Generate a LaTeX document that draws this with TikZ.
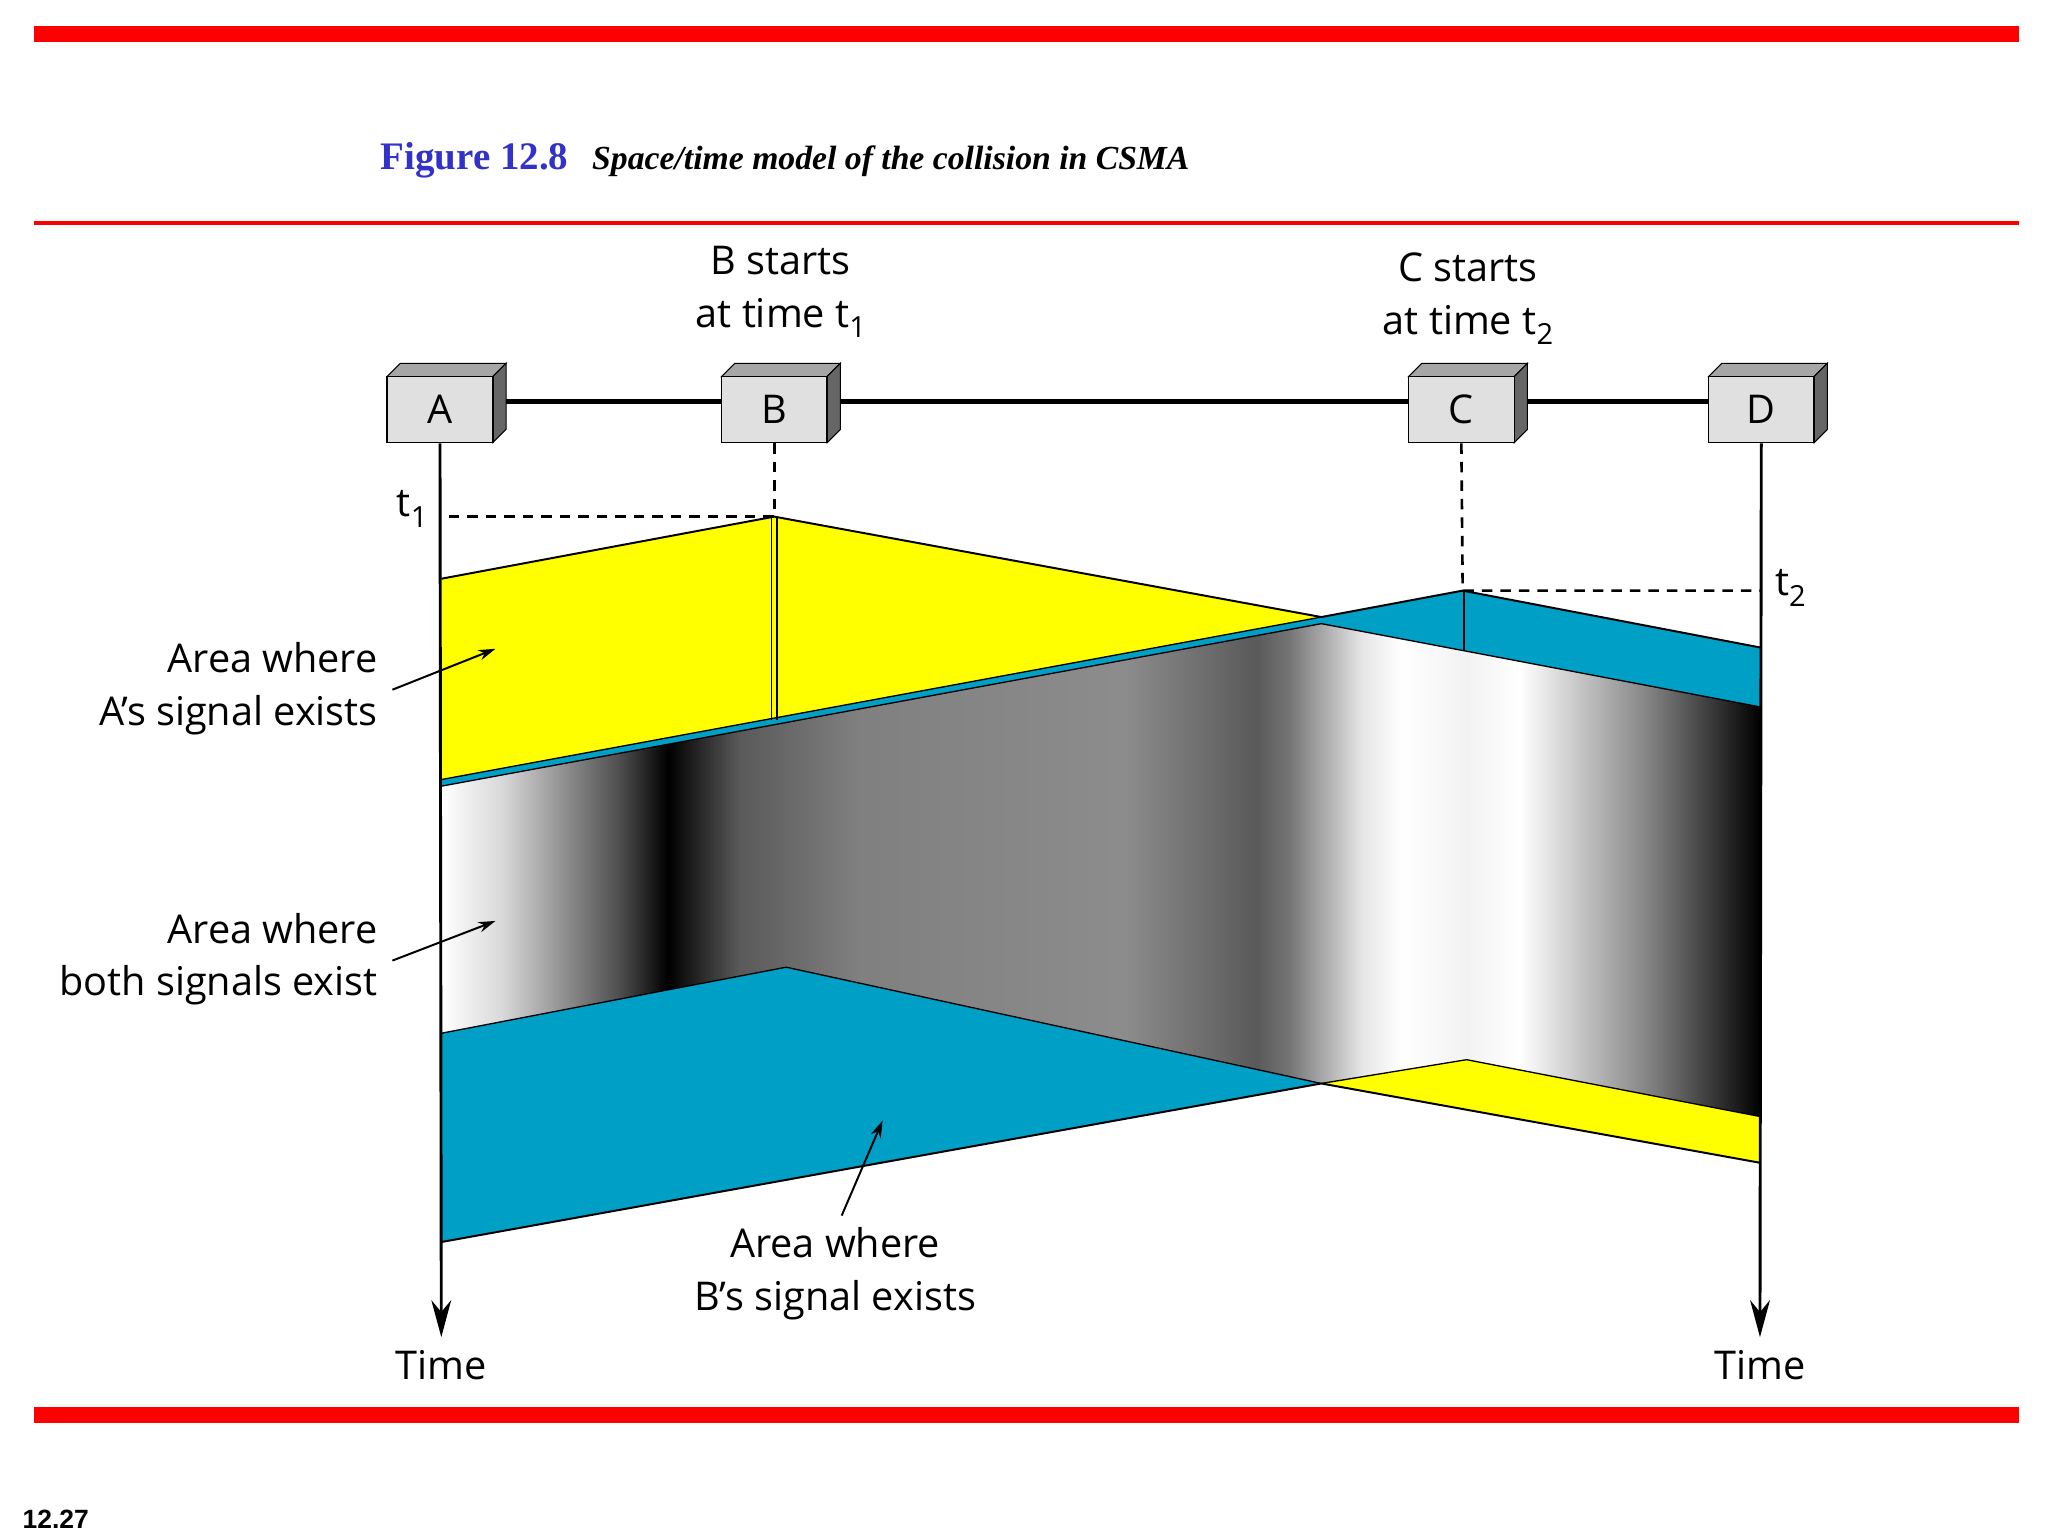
\documentclass[tikz,border=0pt]{standalone}
\usepackage{fontspec}
\setmainfont{Open Sans}
\newfontfamily\timesf{Liberation Serif}
\newfontfamily\arialf{Liberation Sans}
\usetikzlibrary{arrows.meta,calc}
\definecolor{sigY}{RGB}{255,255,0}
\definecolor{sigB}{RGB}{0,160,198}
\definecolor{redbar}{RGB}{255,0,0}
\definecolor{figblue}{RGB}{50,50,200}
\newcommand{\subx}[1]{\raisebox{-8pt}{\fontsize{22}{22}\selectfont #1}}
\pgfdeclarehorizontalshading{coll}{100bp}{color(0bp)=(white); color(25bp)=(white); color(27.3bp)=(black!15); color(31.8bp)=(black!70); color(33.6bp)=(black); color(36.3bp)=(black!65); color(40.8bp)=(black!50); color(50.9bp)=(black!45); color(55.9bp)=(black!65); color(57.1bp)=(black!55); color(59.9bp)=(black!10); color(61.4bp)=(white); color(63.9bp)=(black!5); color(65.9bp)=(white); color(70.9bp)=(black!50); color(75bp)=(black); color(100bp)=(black)}
\begin{document}
\begin{tikzpicture}[x=1pt,y=-1pt,
  lbl/.style={font=\fontsize{30}{40}\selectfont,inner sep=0pt},
  stbox/.style={draw=black,fill=black!12,minimum width=80pt,minimum height=50pt,inner sep=0pt,font=\fontsize{30}{30}\selectfont,line width=1pt},
  tl/.style={line width=2.2pt,-{Stealth[length=28pt,width=15pt,inset=9pt]}},
  dsh/.style={line width=2pt,dash pattern=on 8pt off 6pt},
  pt/.style={-{Stealth[length=13pt,width=8pt]},line width=1.5pt}]
\useasboundingbox (0,0) rectangle (1550,1162.5);
% bars
\fill[redbar] (26,20) rectangle (1528,32);
\fill[redbar] (26,167.5) rectangle (1528,170.5);
\fill[redbar] (26,1065) rectangle (1528,1077);
\node[anchor=west,inner sep=0pt,text=figblue,font=\timesf\bfseries\fontsize{29.5}{30}\selectfont] (ft) at (288,121) {Figure 12.8};
\node[anchor=west,inner sep=0pt,font=\timesf\bfseries\itshape\fontsize{25.5}{30}\selectfont] (fs) at (448,122) {Space/time model of the collision in CSMA};
\node[anchor=west,inner sep=0pt,font=\arialf\bfseries\fontsize{20}{24}\selectfont] (pg) at (17,1150) {12.27};
% regions
\fill[sigY] (334,438) -- (586,391) -- (1000,467) -- (334,590) -- cycle;
\fill[sigB] (334,590) -- (1000,467) -- (1107,447) -- (1332,490) -- (1332,535) -- (1000,472) -- (334,595) -- cycle;
\shade[shading=coll] (334,595) -- (1000,472) -- (1332,535) -- (1332,845) -- (1110,802) -- (1000,820) -- (595,732) -- (334,782) -- cycle;
\fill[sigB] (334,782) -- (595,732) -- (1000,820) -- (334,940) -- cycle;
\fill[sigY] (1000,820) -- (1110,802) -- (1332,845) -- (1332,880) -- cycle;
\draw[line width=1.5pt] (334,438) -- (586,391) -- (1000,467);
\draw[line width=1pt] (334,590) -- (1000,467);
\draw[line width=1pt] (334,595) -- (1000,472) -- (1332,535);
\draw[line width=1.5pt] (1000,467) -- (1107,447) -- (1332,490);
\draw[line width=1pt] (334,782) -- (595,732) -- (1000,820) -- (1110,802) -- (1332,845);
\draw[line width=1.5pt] (334,940) -- (1000,820);
\draw[line width=1.5pt] (1000,820) -- (1332,880);
\draw[line width=1pt] (584,391) -- (584,545) (588,391) -- (588,545);
\draw[line width=1.5pt] (1108,447) -- (1108,492);
% bus
\coordinate (busA) at (334,304);
\coordinate (busD) at (1332,304);
\draw[line width=4pt] (busA) -- (busD);
\foreach \n/\x in {A/333,B/586,C/1106,D/1333}{
  \fill[black!35,draw=black,line width=0.8pt] (\x-40,285) -- (\x-30,275) -- (\x+50,275) -- (\x+40,285) -- cycle;
  \fill[black!60,draw=black,line width=0.8pt] (\x+40,285) -- (\x+50,275) -- (\x+50,325) -- (\x+40,335) -- cycle;
  \node[stbox] (\n) at (\x,310) {\n};
}
% timelines
\coordinate (tA) at (334,1012);
\coordinate (tD) at (1332,1012);
\draw[tl] (A.south) -- (tA);
\draw[tl] (D.south) -- (tD);
\coordinate (b1) at (586,391);
\coordinate (c1) at (1107,447);
\coordinate (t1l) at (334,391);
\coordinate (t2r) at (1332,447);
\draw[dsh] (B.south) -- (b1) -- (t1l);
\draw[dsh] (C.south) -- (c1) -- (t2r);
% labels
\node[lbl,align=center] (bs) at (591,221) {B starts\\at time t\subx{1}};
\node[lbl,align=center] (cs) at (1111,226) {C starts\\at time t\subx{2}};
\node[lbl] (t1) at (312,385) {t\subx{1}};
\node[lbl] (t2) at (1355,445) {t\subx{2}};
\node[lbl,align=right,anchor=east] (la) at (286,521) {Area where\\A’s signal exists};
\node[lbl,align=right,anchor=east] (lb) at (286,726) {Area where\\both signals exist};
\node[lbl,align=center] (lc) at (632,964) {Area where\\B’s signal exists};
\node[lbl] (time1) at (334,1033) {Time};
\node[lbl] (time2) at (1332,1033) {Time};
\coordinate (pa) at (375,491);
\coordinate (pb) at (375,697);
\coordinate (pc) at (668,848);
\draw[pt] (297,522) -- (pa);
\draw[pt] (297,727) -- (pb);
\draw[pt] (637,920) -- (pc);
\end{tikzpicture}
\end{document}
